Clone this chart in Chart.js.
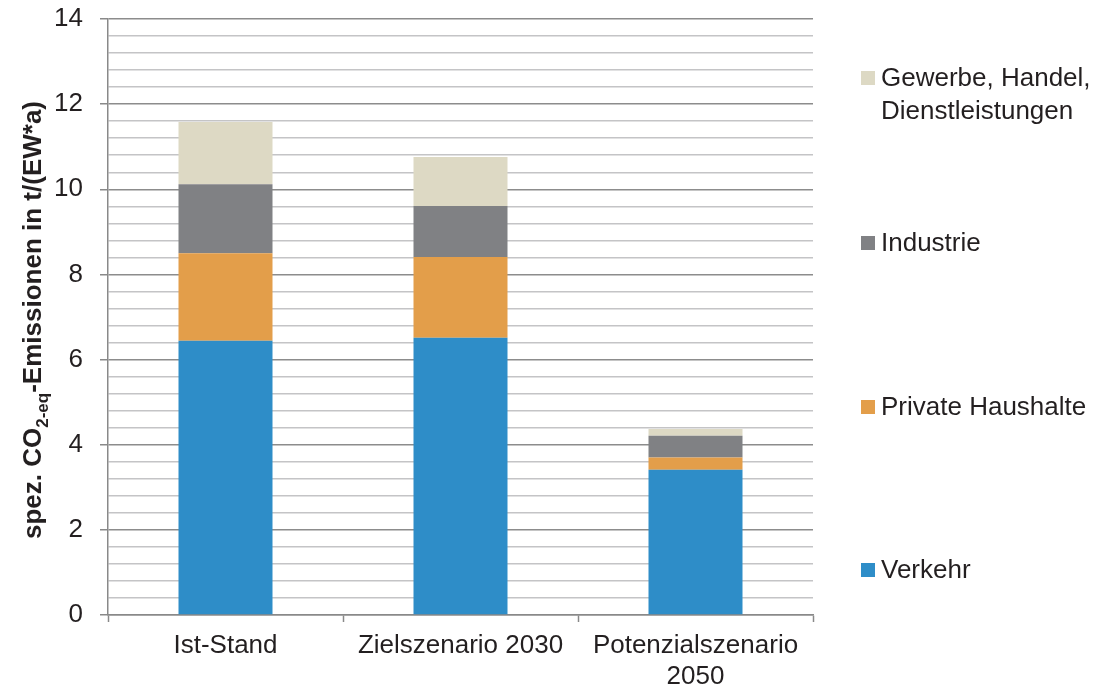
<!DOCTYPE html>
<html>
<head>
<meta charset="utf-8">
<script src="https://cdn.jsdelivr.net/npm/chart.js@4/dist/chart.umd.min.js"></script>
<style>
  html, body { margin: 0; padding: 0; background: #fff; }
  #wrap { width: 1096px; height: 687px; }
</style>
</head>
<body>
<div id="wrap"><canvas id="chart" width="1096" height="687"></canvas></div>
<script>
"use strict";

const categories = ['Ist-Stand', 'Zielszenario 2030', ['Potenzialszenario', '2050']];
const verkehr = [6.44, 6.51, 3.41];
const privateHaushalte = [2.06, 1.90, 0.29];
const industrie = [1.62, 1.20, 0.51];
const gewerbe = [1.46, 1.15, 0.16];

const seriesNames = ['Verkehr', 'Private Haushalte', 'Industrie', ['Gewerbe, Handel,', 'Dienstleistungen']];
const seriesColors = ['#2e8dc8', '#e39e4a', '#808184', '#ddd9c4'];

const FONT = '"Liberation Sans", Arial, sans-serif';
const TEXT = '#231f20';

// legend on the right, bottom entry first
const legendPlugin = {
    id: 'sideLegend',
    afterDraw(chart) {
        const ctx = chart.ctx;
        const ys = [570, 407, 243, 78];
        ctx.save();
        ctx.font = '26px ' + FONT;
        ctx.textBaseline = 'middle';
        seriesNames.forEach((name, i) => {
            ctx.fillStyle = seriesColors[i];
            ctx.fillRect(861, ys[i] - 7, 14, 14);
            ctx.fillStyle = TEXT;
            const lines = Array.isArray(name) ? name : [name];
            lines.forEach((l, j) => ctx.fillText(l, 881, ys[i] + 1 + j * 33));
        });
        ctx.restore();
    }
};

// rotated axis title with subscript
const titlePlugin = {
    id: 'yTitle',
    afterDraw(chart) {
        const ctx = chart.ctx;
        const parts = [
            { t: 'spez. CO', size: 26, dy: 0 },
            { t: '2-eq', size: 17, dy: 7 },
            { t: '-Emissionen in t/(EW*a)', size: 26, dy: 0 }
        ];
        ctx.save();
        ctx.fillStyle = TEXT;
        ctx.textBaseline = 'alphabetic';
        let total = 0;
        parts.forEach(p => {
            ctx.font = 'bold ' + p.size + 'px ' + FONT;
            p.w = ctx.measureText(p.t).width;
            total += p.w;
        });
        ctx.translate(41, 320);
        ctx.rotate(-Math.PI / 2);
        let x = -total / 2;
        parts.forEach(p => {
            ctx.font = 'bold ' + p.size + 'px ' + FONT;
            ctx.fillText(p.t, x, p.dy);
            x += p.w;
        });
        ctx.restore();
    }
};

const datasets = [verkehr, privateHaushalte, industrie, gewerbe].map((d, i) => ({
    label: Array.isArray(seriesNames[i]) ? seriesNames[i].join(' ') : seriesNames[i],
    data: d,
    backgroundColor: seriesColors[i],
    borderWidth: 0,
    categoryPercentage: 0.4,
    barPercentage: 1.0
}));

new Chart(document.getElementById('chart').getContext('2d'), {
    type: 'bar',
    data: { labels: categories, datasets: datasets },
    options: {
        responsive: false,
        animation: false,
        layout: { padding: { left: 0, right: 283, top: 19, bottom: 0 } },
        plugins: {
            legend: { display: false },
            tooltip: { enabled: false }
        },
        scales: {
            x: {
                stacked: true,
                afterFit: s => { s.height = 72; s.paddingLeft = 0; s.paddingRight = 0; },
                grid: {
                    offset: true,
                    drawOnChartArea: false,
                    drawTicks: true,
                    tickLength: 7,
                    tickColor: '#898989',
                    tickWidth: 1.5
                },
                border: { color: '#898989', width: 1.5 },
                ticks: {
                    color: TEXT,
                    font: { family: FONT, size: 26 },
                    padding: 8,
                    maxRotation: 0
                }
            },
            y: {
                stacked: true,
                min: 0,
                max: 14,
                afterFit: s => { s.width = 108; s.paddingTop = 0; s.paddingBottom = 0; },
                afterBuildTicks: s => {
                    const t = [];
                    for (let i = 0; i <= 35; i++) t.push({ value: Math.round(i * 4) / 10 });
                    s.ticks = t;
                },
                grid: {
                    color: c => (Math.abs(c.tick.value % 2) < 1e-6 ? '#8c8c8c' : '#c4c4c6'),
                    lineWidth: 1.5,
                    tickLength: 8,
                    tickColor: c => (Math.abs(c.tick.value % 2) < 1e-6 ? '#898989' : 'rgba(0,0,0,0)')
                },
                border: { color: '#898989', width: 1.5 },
                ticks: {
                    color: TEXT,
                    font: { family: FONT, size: 26 },
                    padding: 17,
                    autoSkip: false,
                    callback: v => (Math.abs(v % 2) < 1e-6 ? String(Math.round(v)) : '')
                }
            }
        }
    },
    plugins: [legendPlugin, titlePlugin]
});
</script>
</body>
</html>
